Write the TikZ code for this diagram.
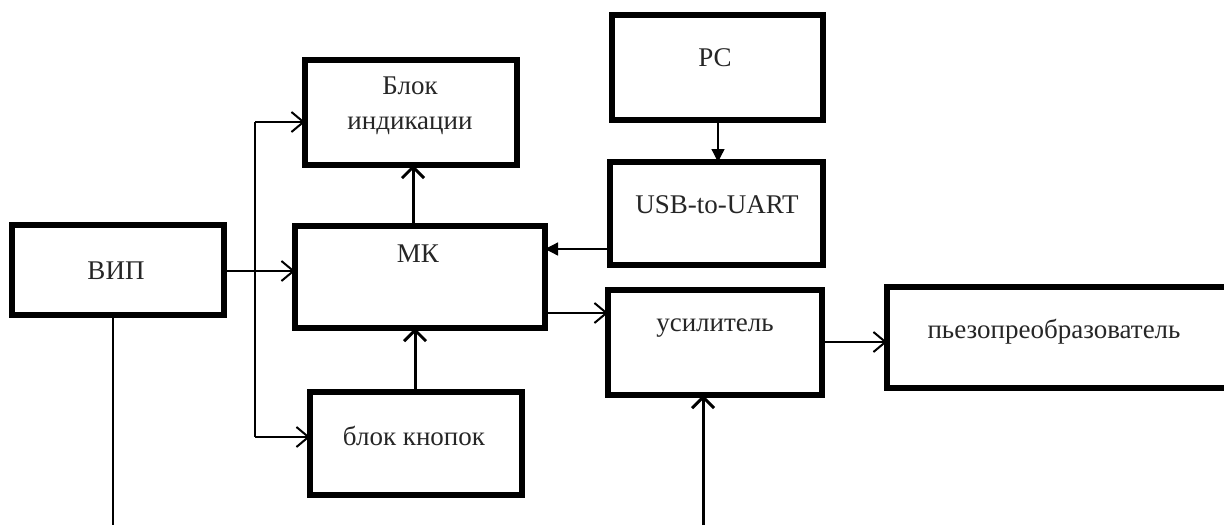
\documentclass[tikz,border=0pt]{standalone}
\usepackage{fontspec}
\setmainfont{Liberation Serif}
\usetikzlibrary{arrows.meta}
\begin{document}
\begin{tikzpicture}[x=1pt,y=-1pt,
  box/.style={draw,line width=6pt,inner sep=0pt,outer sep=0pt,rectangle},
  lbl/.style={font=\fontsize{27}{35}\selectfont,inner sep=0pt,align=center,text=black!85},
  con/.style={line width=2pt,-{Straight Barb[length=12pt,width=20pt,line width=2pt]}},
  tcon/.style={line width=3pt,-{Straight Barb[length=11pt,width=22pt,line width=3pt]}},
  fcon/.style={line width=1.3pt,-{Triangle[length=13pt,width=13pt]}},
  plain/.style={line width=2pt}]
\useasboundingbox (0,0) rectangle (1224,525);
\clip (0,0) rectangle (1224,525);
\fill[white] (0,0) rectangle (1224,525);
% boxes
\node[box,minimum width=212pt,minimum height=90pt] (vip) at (118,270) {};
\node[box,minimum width=212pt,minimum height=105pt] (ind) at (411,112.5) {};
\node[box,minimum width=250pt,minimum height=102pt] (mk) at (420,277) {};
\node[box,minimum width=212pt,minimum height=103pt] (kn) at (416,443.5) {};
\node[box,minimum width=211pt,minimum height=105pt] (pc) at (717.5,67.5) {};
\node[box,minimum width=213pt,minimum height=103pt] (usb) at (716.5,213.5) {};
\node[box,minimum width=214pt,minimum height=105pt] (us) at (715,342.5) {};
\node[box,minimum width=343pt,minimum height=101pt] (pz) at (1058.5,337.5) {};
% labels
\node[lbl] (tvip) at (116,271) {ВИП};
\node[lbl] (tind) at (410,106) {Блок\\индикации};
\node[lbl] (tmk) at (418,254) {МК};
\node[lbl] (tkn) at (414,436) {блок кнопок};
\node[lbl] (tpc) at (715,58) {PC};
\node[lbl] (tusb) at (717,205) {USB-to-UART};
\node[lbl] (tus) at (715,328) {усилитель};
\node[lbl] (tpz) at (1054,332) {пьезопреобразователь};
% free ends
\coordinate (busT) at (255,122);
\coordinate (busB) at (255,437);
\coordinate (vipEnd) at (113,525);
\coordinate (usIn) at (703,525);
% connectors
\draw[con] (vip.east |- 0,271) -- (mk.west |- 0,271);
\draw[plain] (busT) -- (busB);
\draw[con] (busT) -- (ind.west |- busT);
\draw[con] (busB) -- (kn.west |- busB);
\draw[tcon] (mk.north -| 413,0) -- (ind.south -| 413,0);
\draw[tcon] (kn.north -| 415,0) -- (mk.south -| 415,0);
\draw[fcon] (usb.west |- 0,249) -- (mk.east |- 0,249);
\draw[fcon] (pc.south -| 718,0) -- (usb.north -| 718,0);
\draw[con] (mk.east |- 0,313) -- (us.west |- 0,313);
\draw[con] (us.east |- 0,342) -- (pz.west |- 0,342);
\draw[tcon] (usIn) -- (us.south -| usIn);
\draw[plain] (vip.south -| vipEnd) -- (vipEnd);
\end{tikzpicture}
\end{document}
